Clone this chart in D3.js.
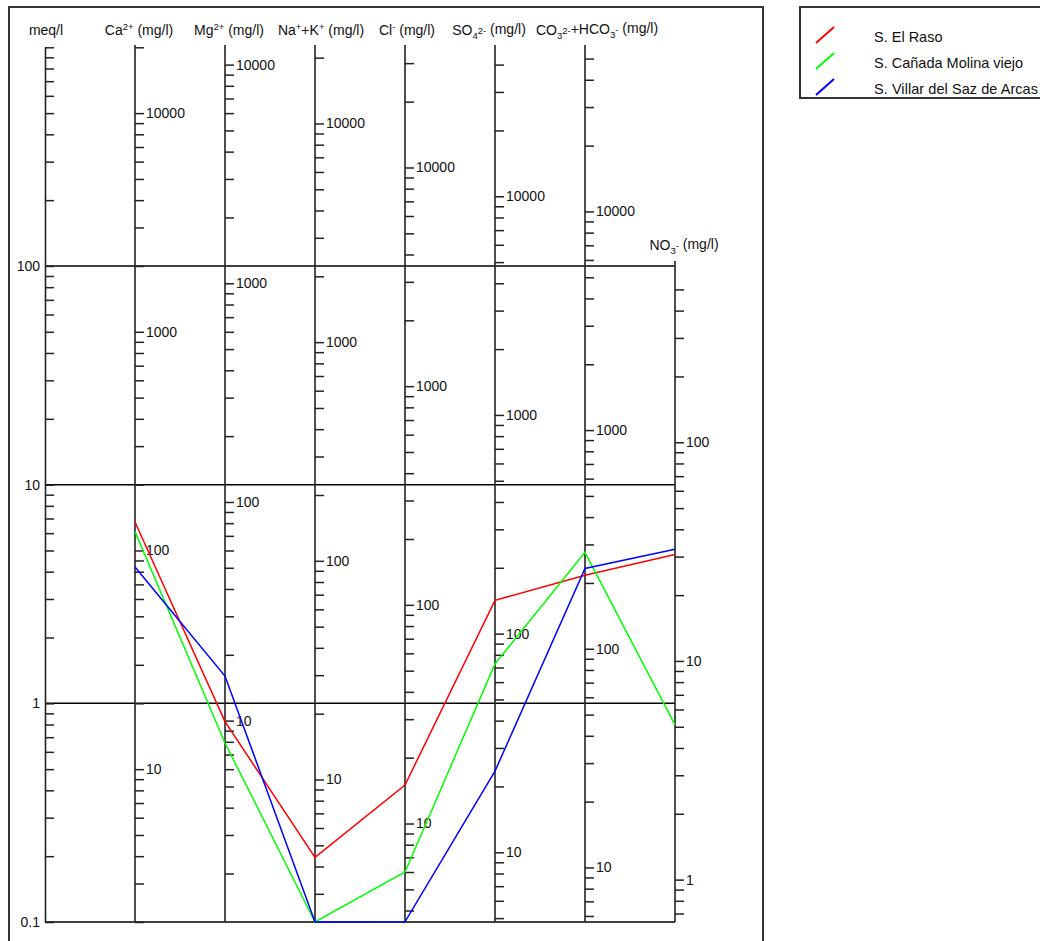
<!DOCTYPE html>
<html>
<head>
<meta charset="utf-8">
<script src="https://cdn.jsdelivr.net/npm/d3@7"></script>
<style>
  html, body { margin: 0; padding: 0; background: #fff; }
  svg { display: block; font-family: "Liberation Sans", Arial, sans-serif; }
</style>
</head>
<body>
<svg id="chart" width="1040" height="941"></svg>
<script>
// Schoeller diagram: ion concentrations (mg/l) on parallel log axes, aligned by meq/l.
const meqGridValues = [0.1, 1, 10, 100];
const meqTickLabels = ["0.1", "1", "10", "100"];
const ionKeys = ["Ca", "Mg", "NaK", "Cl", "SO4", "HCO3", "NO3"];
// mg/l per meq/l position on the shared scale (NO3 drawn at ten times its weight)
const ionFactors = [20.0, 12.0, 22.3, 35.45, 48.0, 56.3, 6.4];
// upper mg/l limit for each axis' ticks
const ionTickMax = [20000, 12000, 22300, 35450, 48000, 56300, 500];

const seriesNames = ["S. El Raso", "S. Cañada Molina  viejo", "S. Villar del Saz de Arcas"];
const seriesColors = ["#ff0000", "#00ff00", "#0000ff"];
// concentrations in mg/l: Ca, Mg, Na+K, Cl, SO4, CO3+HCO3, NO3
const elRaso       = [135, 9.9, 4.4, 15.0, 142, 217, 30.7];
const canadaMolina = [122, 7.9, 2.2, 6.0, 72.7, 276, 5.1];
const villarSaz    = [84, 16.0, 2.2, 3.55, 23.5, 233, 32.4];
const seriesValues = [elRaso, canadaMolina, villarSaz];

const svg = d3.select("#chart");

const yTop = 47.3, yBottom = 922;
const meqScale = d3.scaleLog().domain([0.1, 1000]).range([yBottom, yTop]);
const x = d3.scalePoint().domain(["meq", ...ionKeys]).range([45, 675]);

// outer frame
svg.append("rect").attr("x", 9).attr("y", 7).attr("width", 754).attr("height", 960)
  .attr("fill", "none").attr("stroke", "#333").attr("stroke-width", 2);

// horizontal reference lines at each meq/l decade
svg.append("g").selectAll("line").data(meqGridValues).join("line")
  .attr("x1", x("meq")).attr("x2", x("NO3"))
  .attr("y1", d => meqScale(d)).attr("y2", d => meqScale(d))
  .attr("stroke", "#000").attr("stroke-width", 1.5);

function styleAxis(g) {
  g.select(".domain").attr("stroke", "#222").attr("stroke-width", 1.6);
  g.selectAll(".tick line").attr("stroke", "#222").attr("stroke-width", 1.5);
  g.selectAll(".tick text").attr("font-size", 14).attr("fill", "#111")
    .attr("font-family", "'Liberation Sans', Arial, sans-serif");
}

function logTicks(lo, hi) {
  const out = [];
  for (let k = Math.floor(Math.log10(lo)); k <= Math.ceil(Math.log10(hi)); k++) {
    for (let m = 1; m <= 9; m++) {
      const v = m * Math.pow(10, k);
      if (v >= lo * 0.999 && v <= hi * 1.001) out.push(+v.toPrecision(6));
    }
  }
  return out;
}
const isDecade = v => Math.abs(Math.log10(v) - Math.round(Math.log10(v))) < 1e-9;

// meq/l axis: ticks to the right, labels to the left
const meqAxis = d3.axisLeft(meqScale)
  .tickValues(logTicks(0.1, 1000))
  .tickSize(-9).tickSizeOuter(0).tickPadding(5)
  .tickFormat(v => {
    const i = meqGridValues.findIndex(g => Math.abs(g - v) < 1e-9);
    return i >= 0 ? meqTickLabels[i] : "";
  });
svg.append("g").attr("transform", `translate(${x("meq")},0)`).call(meqAxis).call(styleAxis);

// ion axes in mg/l
ionKeys.forEach((key, i) => {
  const f = ionFactors[i];
  const highMeq = key === "NO3" ? 100 : 1000;
  const scale = d3.scaleLog().domain([0.1 * f, 1000 * f]).range([yBottom, yTop]);
  const ticks = logTicks(0.1 * f, Math.min(ionTickMax[i], highMeq * f));
  const axis = d3.axisRight(scale).tickValues(ticks)
    .tickSize(9).tickSizeOuter(0).tickPadding(2)
    .tickFormat(v => isDecade(v) ? d3.format("d")(v) : "");
  const g = svg.append("g").attr("transform", `translate(${x(key)},0)`).call(axis).call(styleAxis);
  const top = key === "NO3" ? meqScale(100) - 5 : 45;
  g.select(".domain").attr("d", `M0,${top}V${yBottom}`);
});

// axis titles with super/subscripts
function title(cx, cy, parts) {
  const t = svg.append("text").attr("x", cx).attr("y", cy).attr("text-anchor", "middle")
    .attr("font-size", 14).attr("fill", "#111");
  parts.forEach(p => {
    const s = t.append("tspan").text(p[0]);
    if (p[1] === "sup") s.attr("font-size", 9.5).attr("dy", -5);
    if (p[1] === "sub") s.attr("font-size", 9.5).attr("dy", 4);
    if (p[1] === "back") s.attr("dy", p[2]);
  });
  return t;
}
const ty = 35;
title(46, ty, [["meq/l"]]);
title(139, ty, [["Ca"], ["2+", "sup"], [" (mg/l)", "back", 5]]);
title(229, ty, [["Mg"], ["2+", "sup"], [" (mg/l)", "back", 5]]);
title(321, ty, [["Na"], ["+", "sup"], ["+K", "back", 5], ["+", "sup"], [" (mg/l)", "back", 5]]);
title(407, ty, [["Cl"], ["-", "sup"], [" (mg/l)", "back", 5]]);
title(489, ty, [["SO"], ["4", "sub"], ["2-", "sup", 0], [" (mg/l)", "back", 0]]);
title(597, ty, [["CO"], ["3", "sub"], ["2-", "sup"], ["+HCO", "back", 0], ["3", "sub"], ["-", "sup"], ["  (mg/l)", "back", 0]]);
title(684, 250, [["NO"], ["3", "sub"], ["-", "sup"], [" (mg/l)", "back", 0]]);

// series lines (values below 0.1 meq/l sit on the bottom line)
const line = d3.line().x(d => x(d.key)).y(d => meqScale(Math.max(0.1, d.meq)));
seriesValues.forEach((vals, si) => {
  const pts = vals.map((v, i) => ({ key: ionKeys[i], meq: v / ionFactors[i] }));
  svg.append("path").datum(pts).attr("d", line)
    .attr("fill", "none").attr("stroke", seriesColors[si]).attr("stroke-width", 1.5);
});

// legend
const lg = svg.append("g");
lg.append("rect").attr("x", 800).attr("y", 7).attr("width", 260).attr("height", 91)
  .attr("fill", "#fff").attr("stroke", "#333").attr("stroke-width", 2);
seriesNames.forEach((name, i) => {
  const cy = 37 + i * 26;
  lg.append("line").attr("x1", 816).attr("x2", 834).attr("y1", cy + 6).attr("y2", cy - 10)
    .attr("stroke", seriesColors[i]).attr("stroke-width", 2);
  lg.append("text").attr("x", 874).attr("y", cy + 5).attr("font-size", 14.5).attr("fill", "#111")
    .attr("textLength", i === 2 ? 164 : null)
    .text(name);
});
</script>
</body>
</html>
